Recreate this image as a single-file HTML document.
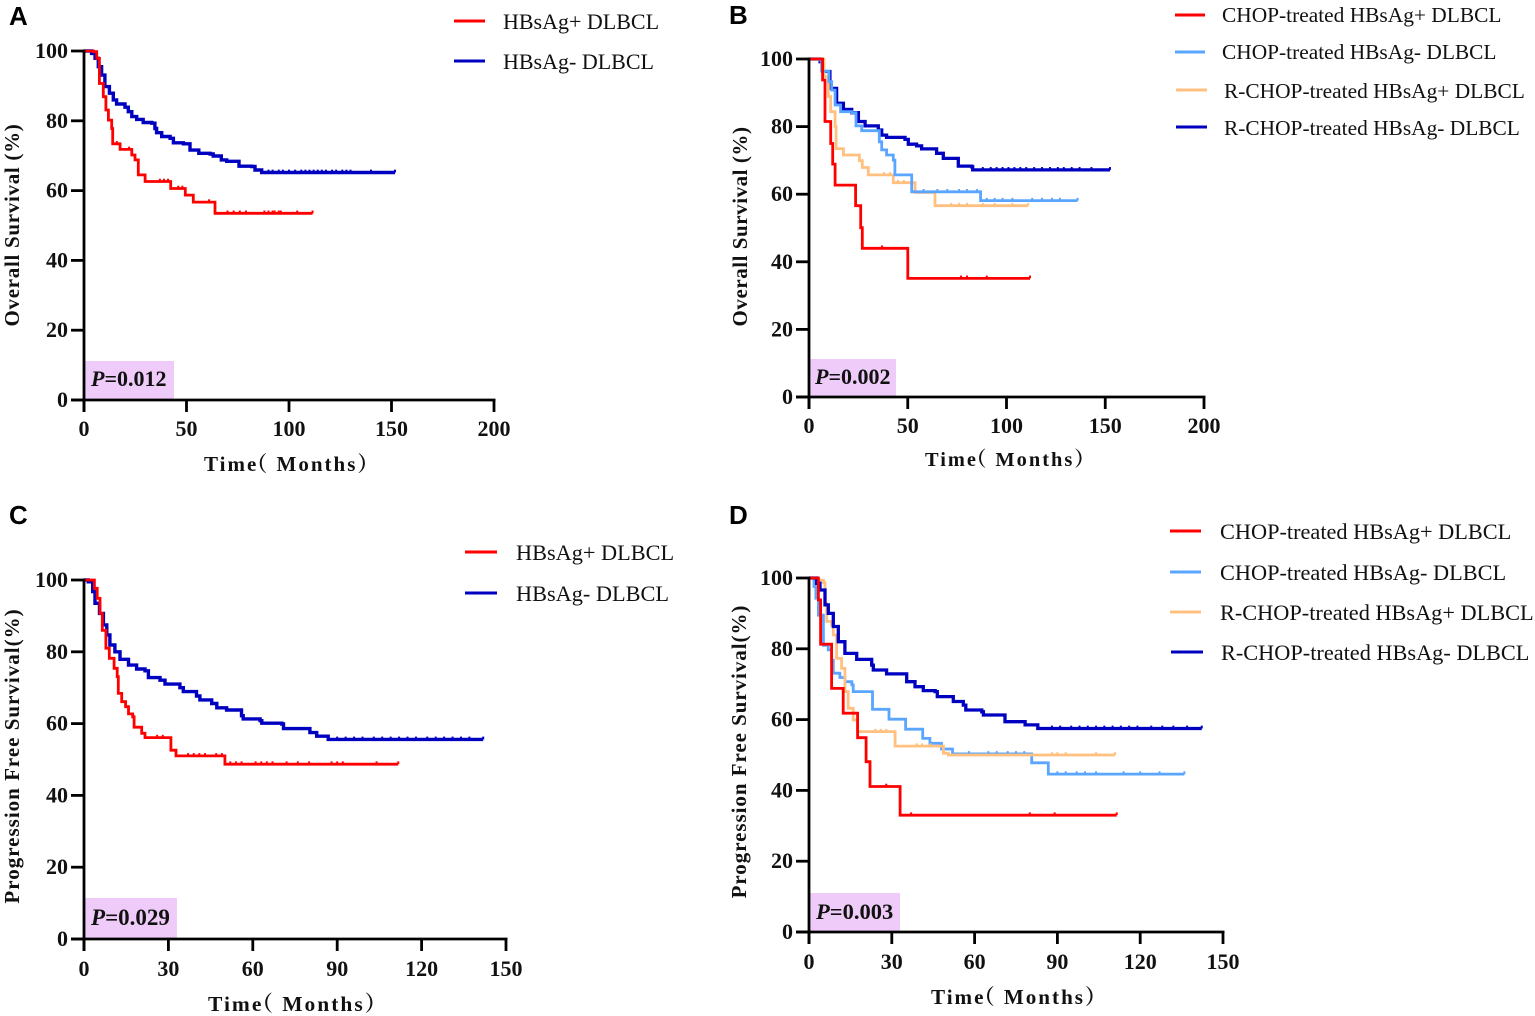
<!DOCTYPE html>
<html lang="en">
<head>
<meta charset="utf-8">
<title>Kaplan-Meier survival curves</title>
<style>
html,body{margin:0;padding:0;background:#fff;width:1535px;height:1016px;overflow:hidden}
svg{display:block}
text{font-family:"Liberation Serif","Noto Serif CJK SC",serif;fill:#111}
.tick{font-weight:700;font-size:22px}
.title{font-weight:700;font-size:21px;letter-spacing:1px}
.xtitle{font-weight:700;font-size:21px;letter-spacing:2px}
.pv{font-weight:700;font-size:22px}
.letter{font-family:"Liberation Sans",sans-serif;font-weight:700;font-size:26px;fill:#000}
</style>
</head>
<body>
<svg id="fig" xmlns="http://www.w3.org/2000/svg" width="1535" height="1016" viewBox="0 0 1535 1016">
  <text class="letter" x="9" y="25">A</text>
  <text class="letter" x="729" y="24">B</text>
  <text class="letter" x="9" y="524">C</text>
  <text class="letter" x="729" y="524">D</text>

  <text class="title" style="letter-spacing:.7px" transform="translate(19,225) rotate(-90)" text-anchor="middle">Overall Survival (%)</text>
  <text class="title" style="letter-spacing:.55px" transform="translate(747,226.5) rotate(-90)" text-anchor="middle">Overall Survival (%)</text>
  <text class="title" transform="translate(19,756) rotate(-90)" text-anchor="middle">Progression Free Survival(%)</text>
  <text class="title" style="letter-spacing:.95px" transform="translate(746,751.5) rotate(-90)" text-anchor="middle">Progression Free Survival(%)</text>

  <text class="xtitle" x="204" y="471">Time<tspan dx="-12">（ Months）</tspan></text>
  <text class="xtitle" style="font-size:20.4px" x="925" y="466">Time<tspan dx="-12">（ Months）</tspan></text>
  <text class="xtitle" style="font-size:21.5px" x="208" y="1011">Time<tspan dx="-12">（ Months）</tspan></text>
  <text class="xtitle" style="font-size:21.1px" x="931" y="1004">Time<tspan dx="-12">（ Months）</tspan></text>

  <g font-size="22">
    <line x1="454" x2="485" y1="21" y2="21" stroke="#ff0000" stroke-width="3"/>
    <text x="503" y="29">HBsAg+ DLBCL</text>
    <line x1="454" x2="485" y1="61" y2="61" stroke="#0000c0" stroke-width="3"/>
    <text x="503" y="69">HBsAg- DLBCL</text>
  </g>
  <g font-size="21.4">
    <line x1="1175" x2="1205" y1="15" y2="15" stroke="#ff0000" stroke-width="3"/>
    <text x="1222" y="22">CHOP-treated HBsAg+ DLBCL</text>
    <line x1="1175" x2="1205" y1="52" y2="52" stroke="#5aa5ff" stroke-width="3"/>
    <text x="1222" y="59">CHOP-treated HBsAg- DLBCL</text>
    <line x1="1176" x2="1207" y1="90" y2="90" stroke="#ffc080" stroke-width="3"/>
    <text x="1224" y="98">R-CHOP-treated HBsAg+ DLBCL</text>
    <line x1="1176" x2="1207" y1="127" y2="127" stroke="#0000c0" stroke-width="3"/>
    <text x="1224" y="135">R-CHOP-treated HBsAg- DLBCL</text>
  </g>
  <g font-size="22.3">
    <line x1="465" x2="497" y1="552" y2="552" stroke="#ff0000" stroke-width="3"/>
    <text x="516" y="560">HBsAg+ DLBCL</text>
    <line x1="465" x2="497" y1="593" y2="593" stroke="#0000c0" stroke-width="3"/>
    <text x="516" y="601">HBsAg- DLBCL</text>
  </g>
  <g font-size="22.3">
    <line x1="1170" x2="1201" y1="531" y2="531" stroke="#ff0000" stroke-width="3"/>
    <text x="1220" y="539">CHOP-treated HBsAg+ DLBCL</text>
    <line x1="1170" x2="1201" y1="572" y2="572" stroke="#5aa5ff" stroke-width="3"/>
    <text x="1220" y="580">CHOP-treated HBsAg- DLBCL</text>
    <line x1="1170" x2="1201" y1="612" y2="612" stroke="#ffc080" stroke-width="3"/>
    <text x="1220" y="620">R-CHOP-treated HBsAg+ DLBCL</text>
    <line x1="1171" x2="1203" y1="652" y2="652" stroke="#0000c0" stroke-width="3"/>
    <text x="1221" y="660">R-CHOP-treated HBsAg- DLBCL</text>
  </g>

  <rect x="85" y="361" width="89" height="38" fill="#eecbf8"/>
  <rect x="810" y="359" width="86" height="37" fill="#eecbf8"/>
  <rect x="85" y="898" width="92" height="40" fill="#eecbf8"/>
  <rect x="810" y="893" width="90" height="38" fill="#eecbf8"/>
  <text class="pv" x="91" y="386"><tspan font-style="italic">P</tspan>=0.012</text>
  <text class="pv" x="815" y="384"><tspan font-style="italic">P</tspan>=0.002</text>
  <text class="pv" style="font-size:23px" x="91" y="925"><tspan font-style="italic">P</tspan>=0.029</text>
  <text class="pv" style="font-size:22.5px" x="816" y="919"><tspan font-style="italic">P</tspan>=0.003</text>
</svg>
<script>
// Tick labels
const yTickValues = [0, 20, 40, 60, 80, 100];
const xTicksOverall = [0, 50, 100, 150, 200];
const xTicksProgression = [0, 30, 60, 90, 120, 150];

// Panel A: months, survival %, censor months
const aPosMonths = [0, 4.6, 6.2, 7.5, 9.4, 10.7, 11.9, 13.5, 14, 17.6, 23.3, 24.9, 26.5, 29.8, 42.3, 49.4, 53.3, 63.9, 111.5];
const aPosSurvival = [100, 99.8, 97.9, 90.7, 86.9, 83.1, 80.2, 77.8, 73.4, 71.8, 70.2, 68.8, 64.5, 62.6, 60.6, 58.7, 56.7, 53.5, 53.5];
const aPosCensor = [16, 22, 37, 39, 41, 46, 48, 61, 70, 73, 76, 79, 88, 90, 92, 93, 95, 96, 104, 111.5];
const aNegMonths = [0, 3.7, 5.4, 7, 8.6, 10.2, 12.4, 14.3, 15.9, 20, 21.6, 23.3, 25.7, 28.9, 33, 34.6, 35.4, 37.9, 42, 43.6, 48.5, 51.7, 56, 61.5, 63, 67, 69.6, 75.6, 81.8, 83.4, 86.7, 151.7];
const aNegSurvival = [100, 99.3, 97.9, 95.5, 93.1, 89.8, 87.9, 86, 84.8, 83.9, 82.6, 81.2, 80.4, 79.5, 79.3, 77.8, 76.6, 75.5, 75, 73.7, 73.4, 71.6, 70.7, 70.5, 69.9, 68.8, 68.4, 67, 66.9, 65.9, 65.2, 65.2];
const aNegCensor = [90, 92, 95, 97, 100, 103, 106, 108, 110, 112, 114, 116, 118, 121, 123, 126, 128, 130, 140, 151.7];

// Panel B
const bChopPosMonths = [0, 6.9, 8.1, 11, 12, 13.2, 23.6, 26.2, 27, 50, 111.9];
const bChopPosSurvival = [100, 93.8, 81.5, 75, 68.9, 62.7, 56.6, 50.1, 44, 35.1, 35.1];
const bChopPosCensor = [37, 77, 80, 90, 111.9];
const bChopNegMonths = [0, 5.6, 6.4, 10.1, 11.5, 13.2, 16, 21.6, 23.8, 26.7, 35.6, 36.8, 39.3, 42.7, 43.5, 52, 86.9, 136];
const bChopNegSurvival = [100, 99.7, 96.4, 93.3, 90.8, 86.4, 84.4, 84.1, 80.2, 78.8, 75.5, 73.1, 71.6, 70.1, 65.7, 60.7, 58.1, 58.1];
const bChopNegCensor = [58, 65, 70, 76, 80, 85, 90, 94, 98, 103, 113, 118, 123, 127, 136];
const bRchopPosMonths = [0, 4.7, 7.3, 7.6, 9.8, 11, 13.2, 13.7, 17.4, 25.5, 27, 30, 42.7, 53.7, 63.8, 111];
const bRchopPosSurvival = [100, 100, 99.7, 94.8, 88.9, 84.4, 80, 73.5, 71.6, 69.9, 67.9, 65.7, 63.4, 60.5, 56.6, 56.6];
const bRchopPosCensor = [38, 41, 45, 48, 72, 76, 80, 88, 94, 103, 111];
const bRchopNegMonths = [0, 5.6, 7.3, 10.6, 14, 17.4, 21.6, 25, 28.4, 35.1, 36.8, 39.3, 48.6, 50.3, 54.5, 57, 64.6, 68, 75.6, 82.4, 82.9, 152.4];
const bRchopNegSurvival = [100, 99.2, 96.3, 91.3, 86.9, 85.1, 84.1, 81.5, 80.2, 79, 77.5, 76.8, 76.2, 74.8, 74.3, 73.4, 72.1, 70.6, 68.3, 68.1, 67.2, 67.2];
const bRchopNegCensor = [88, 92, 95, 98, 101, 104, 107, 110, 114, 118, 122, 126, 129, 133, 137, 143, 152.4];

// Panel C
const cPosMonths = [0, 2.4, 3.7, 4.7, 5.7, 6.5, 7.8, 9, 10.7, 11.8, 12.2, 13.4, 14.8, 15.8, 17.3, 17.8, 20.5, 21.7, 30.9, 32.7, 50.1, 111.7];
const cPosSurvival = [100, 100, 97.7, 94.9, 90.7, 86, 81, 78.2, 75.4, 73.1, 68.4, 66.1, 64.7, 62.7, 61.9, 59, 57.3, 56.1, 52.6, 51, 48.7, 48.7];
const cPosCensor = [26, 28, 37, 39, 41, 43, 47, 49, 52, 54, 56, 61, 63, 65, 67, 72, 76, 80, 88, 90, 92, 104, 111.7];
const cNegMonths = [0, 1.5, 3.1, 3.9, 5.5, 6.9, 8.1, 9.2, 11, 12.8, 15.8, 18.7, 21.7, 22.9, 27, 28.8, 34.1, 35.3, 40, 41.2, 45.4, 47.2, 50.7, 56, 56.6, 62.6, 63.2, 70.3, 70.9, 80.3, 82.7, 86.8, 141.9];
const cNegSurvival = [100, 99.5, 96.8, 93.5, 90.7, 87.5, 84.7, 81.9, 80, 77.9, 76.3, 75.2, 74.7, 72.8, 72.1, 71, 70, 68.9, 67.7, 66.6, 65.6, 64.4, 63.8, 62.2, 61.3, 60.8, 60.1, 59.9, 58.6, 57.5, 56.5, 55.6, 55.6];
const cNegCensor = [90, 93, 96, 99, 103, 106, 109, 112, 115, 118, 122, 125, 128, 131, 134, 137, 141.9];

// Panel D
const dChopPosMonths = [0, 3.4, 4.2, 8.2, 12.4, 17.6, 20.7, 22.1, 33, 111.5];
const dChopPosSurvival = [100, 93.8, 81.3, 68.8, 61.8, 54.9, 48.1, 41.1, 33, 33];
const dChopPosCensor = [28, 37, 80, 89, 111.5];
const dChopNegMonths = [0, 1.8, 2.5, 3.4, 5.2, 7, 8.2, 8.8, 11.2, 13, 15.5, 16, 23, 29, 35, 41.2, 43.8, 48, 52, 80.7, 86.7, 136];
const dChopNegSurvival = [100, 97.6, 94.3, 89.5, 81, 79.7, 76.8, 73.1, 71.9, 70.7, 69.8, 67.9, 62.9, 60.1, 57.3, 54.7, 53.3, 51.7, 50.3, 47.8, 44.6, 44.6];
const dChopNegCensor = [58, 65, 68, 72, 75, 78, 90, 93, 97, 100, 104, 114, 120, 127, 136];
const dRchopPosMonths = [0, 2.8, 5.2, 5.8, 6.4, 8.2, 8.8, 10, 11.8, 13, 14.2, 16, 17.6, 31.2, 48.7, 50.5, 110.9];
const dRchopPosSurvival = [100, 99.4, 98.7, 92.8, 87.7, 86.7, 83.9, 77.3, 74.5, 67.9, 63.2, 59.9, 56.6, 52.5, 50.5, 50, 50];
const dRchopPosCensor = [24, 26, 28, 39, 41, 44, 88, 90, 93, 104, 110.9];
const dRchopNegMonths = [0, 2.8, 4, 5.8, 7, 8.8, 10.6, 13, 17.3, 22.7, 23.3, 28.1, 35.4, 38.4, 41.4, 45.7, 46.5, 52.3, 55.9, 56.8, 62.6, 63.2, 71, 78.3, 82.9, 142.3];
const dRchopNegSurvival = [100, 98.5, 96.6, 92.4, 90, 86.3, 82, 78.7, 77, 75.4, 74, 72.9, 70.7, 69.3, 68.2, 67.9, 66.5, 65.1, 64.1, 62.7, 62.2, 61.3, 59.4, 58.5, 57.5, 57.5];
const dRchopNegCensor = [88, 91, 95, 98, 101, 104, 107, 110, 113, 116, 119, 124, 128, 132, 137, 142.3];

const svgNS = 'http://www.w3.org/2000/svg';
const fig = document.getElementById('fig');

function makeLine(x1, y1, x2, y2, color, width) {
  const l = document.createElementNS(svgNS, 'line');
  l.setAttribute('x1', x1);
  l.setAttribute('y1', y1);
  l.setAttribute('x2', x2);
  l.setAttribute('y2', y2);
  l.setAttribute('stroke', color);
  l.setAttribute('stroke-width', width);
  fig.appendChild(l);
  return l;
}

function makeLabel(x, y, anchor, str) {
  const t = document.createElementNS(svgNS, 'text');
  t.setAttribute('x', x);
  t.setAttribute('y', y);
  t.setAttribute('text-anchor', anchor);
  t.setAttribute('class', 'tick');
  t.textContent = str;
  fig.appendChild(t);
  return t;
}

function survivalAt(months, survival, m) {
  let s = survival[0];
  for (let i = 0; i < months.length; i++) {
    if (months[i] <= m) s = survival[i];
  }
  return s;
}

function drawSeries(panel, key, months, survival, censor, color, width) {
  const sx = panel.sx;
  const sy = panel.sy;
  let d = 'M' + sx(months[0]) + ' ' + sy(survival[0]);
  for (let i = 1; i < months.length; i++) {
    d += 'H' + sx(months[i]).toFixed(1) + 'V' + sy(survival[i]).toFixed(1);
  }
  const p = document.createElementNS(svgNS, 'path');
  p.setAttribute('d', d);
  p.setAttribute('fill', 'none');
  p.setAttribute('stroke', color);
  p.setAttribute('stroke-width', width);
  
  
  fig.appendChild(p);
  censor.forEach(function (m) {
    const y = sy(survivalAt(months, survival, m));
    const c = makeLine(sx(m), y - 2.8, sx(m), y, color, 2);
    
    
  });
}

function drawAxes(panel, xTicks, xLabelY) {
  const sx = panel.sx;
  const sy = panel.sy;
  const xAxis = makeLine(panel.x0 - 13, panel.y0, panel.x1 + 1.5, panel.y0, '#000', 2.8);
  
  
  const yAxis = makeLine(panel.x0, panel.y1 - 1.4, panel.x0, panel.y0 + 12, '#000', 2.8);
  
  
  yTickValues.forEach(function (v) {
    const tk = makeLine(panel.x0 - 13, sy(v), panel.x0, sy(v), '#000', 2.8);
    
    
    const lb = makeLabel(panel.x0 - 16, sy(v) + 7, 'end', String(v));
    
    
  });
  xTicks.forEach(function (v) {
    const tk = makeLine(sx(v), panel.y0, sx(v), panel.y0 + 12, '#000', 2.8);
    
    
    const lb = makeLabel(sx(v), xLabelY, 'middle', String(v));
    
    
  });
}

function makePanel(id, x0, x1, xMax, y0, y1) {
  return {
    id: id, x0: x0, x1: x1, y0: y0, y1: y1,
    sx: function (m) { return x0 + (x1 - x0) * m / xMax; },
    sy: function (v) { return y0 - (y0 - y1) * v / 100; }
  };
}

const RED = '#ff0000', NAVY = '#0000c0', SKY = '#5aa5ff', PEACH = '#ffc080';

const panelA = makePanel('a', 84, 494, 200, 400, 51);
drawSeries(panelA, 'hbsag-negative', aNegMonths, aNegSurvival, aNegCensor, NAVY, 3.4);
drawSeries(panelA, 'hbsag-positive', aPosMonths, aPosSurvival, aPosCensor, RED, 2.8);
drawAxes(panelA, xTicksOverall, 436);

const panelB = makePanel('b', 809, 1204, 200, 397, 59);
drawSeries(panelB, 'rchop-negative', bRchopNegMonths, bRchopNegSurvival, bRchopNegCensor, NAVY, 3.3);
drawSeries(panelB, 'rchop-positive', bRchopPosMonths, bRchopPosSurvival, bRchopPosCensor, PEACH, 2.8);
drawSeries(panelB, 'chop-negative', bChopNegMonths, bChopNegSurvival, bChopNegCensor, SKY, 2.8);
drawSeries(panelB, 'chop-positive', bChopPosMonths, bChopPosSurvival, bChopPosCensor, RED, 2.8);
drawAxes(panelB, xTicksOverall, 433);

const panelC = makePanel('c', 84, 506, 150, 939, 580);
drawSeries(panelC, 'hbsag-negative', cNegMonths, cNegSurvival, cNegCensor, NAVY, 3.4);
drawSeries(panelC, 'hbsag-positive', cPosMonths, cPosSurvival, cPosCensor, RED, 2.8);
drawAxes(panelC, xTicksProgression, 976);

const panelD = makePanel('d', 809, 1223, 150, 932, 578);
drawSeries(panelD, 'chop-negative', dChopNegMonths, dChopNegSurvival, dChopNegCensor, SKY, 2.8);
drawSeries(panelD, 'rchop-positive', dRchopPosMonths, dRchopPosSurvival, dRchopPosCensor, PEACH, 2.8);
drawSeries(panelD, 'rchop-negative', dRchopNegMonths, dRchopNegSurvival, dRchopNegCensor, NAVY, 3.3);
drawSeries(panelD, 'chop-positive', dChopPosMonths, dChopPosSurvival, dChopPosCensor, RED, 2.8);
drawAxes(panelD, xTicksProgression, 969);
</script>
</body>
</html>
